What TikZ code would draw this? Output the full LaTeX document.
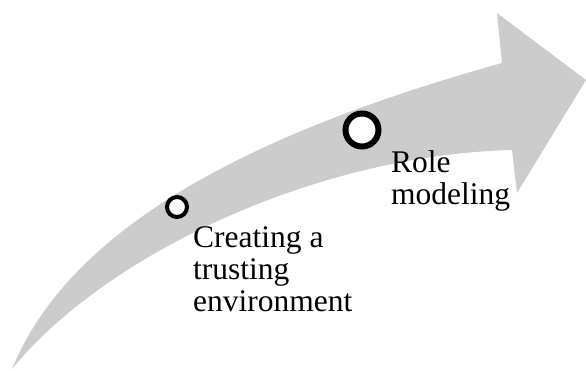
\documentclass[tikz,border=0pt]{standalone}
\usepackage{fontspec}
\setmainfont{Liberation Serif}

\begin{document}
\begin{tikzpicture}[x=1pt,y=1pt,
        every text node part/.style={align=left},
        stage/.style={circle,draw,fill=white,inner sep=0pt},
        stagetext/.style={anchor=base west,inner sep=0pt,font=\fontsize{31.5}{32}\selectfont}]
        \useasboundingbox (0,0) rectangle (586,371);
        \fill[black!20] (12,2)
        .. controls (75,156) and (280,246) .. (502,308)
        -- (497,358)
        -- (586,291)
        -- (517,178)
        -- (512,221)
        .. controls (315,216) and (105,116) .. (12,2)
        -- cycle;

        \node[stage,line width=4pt,minimum size=20pt] (S0) at (177,164) {};
        \node[stage,line width=6pt,minimum size=33pt] (S1) at (362,241) {};

        % anchor base = baseline of the last line
        \node[stagetext] (T0) at (193,59) {Creating a\\trusting\\environment};
        \node[stagetext] (T1) at (391,166) {Role\\modeling};
    \end{tikzpicture}
\end{document}
